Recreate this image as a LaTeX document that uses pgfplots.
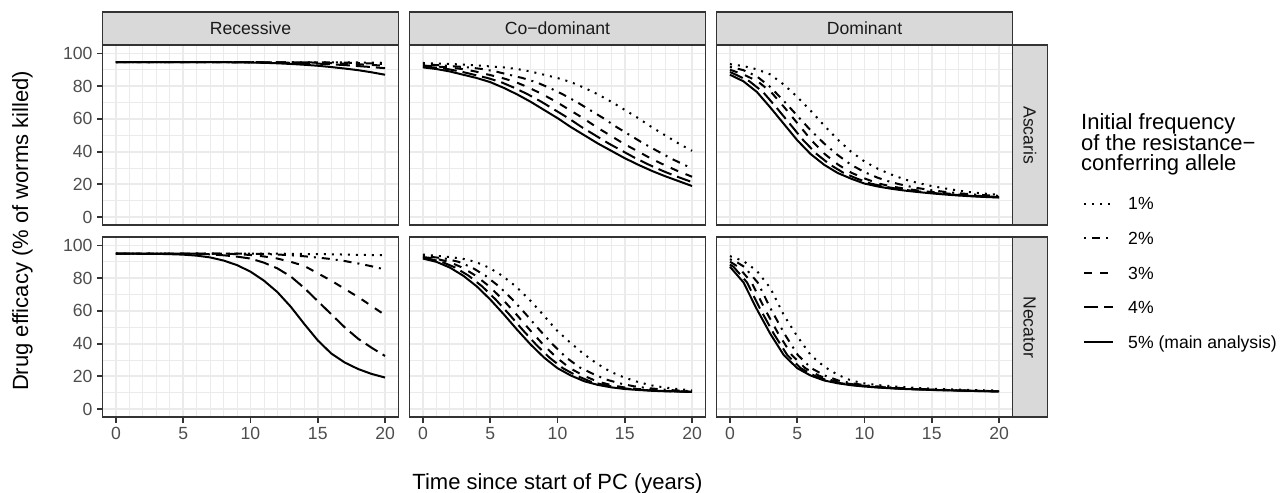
\documentclass[border=0pt]{standalone}
\usepackage{fontspec}
\setmainfont{Liberation Sans}
\usepackage{pgfplots}
\pgfplotsset{compat=1.18}
\definecolor{g10}{HTML}{1A1A1A}
\definecolor{g20}{HTML}{333333}
\definecolor{g30}{HTML}{4D4D4D}
\definecolor{g85}{HTML}{D9D9D9}
\definecolor{g92}{HTML}{EBEBEB}
\newcommand\tickfont{\fontsize{17.6bp}{21bp}\selectfont}
\newcommand\titlefont{\fontsize{22bp}{26bp}\selectfont}
\pgfplotsset{
  panel/.style={
    scale only axis, width=296bp, height=180bp, anchor=south west,
    xmin=-1, xmax=21, ymin=-5, ymax=105,
    xtick={0,5,10,15,20}, ytick={0,20,40,60,80,100},
    minor xtick={1,2,3,4,6,7,8,9,11,12,13,14,16,17,18,19},
    minor ytick={10,30,50,70,90},
    grid=both,
    major grid style={draw=g92, line width=1.8bp},
    minor grid style={draw=g92, line width=0.9bp},
    axis line style={draw=g20, line width=1.8bp},
    tick align=outside, major tick length=5.5bp, minor tick length=0pt,
    tick style={draw=g20, line width=1.8bp},
    xtick pos=bottom, ytick pos=left,
    /pgf/number format/assume math mode=true,
    ticklabel style={font=\tickfont, text=g30, inner sep=0pt},
    xticklabel shift=4.4bp, yticklabel shift=4.4bp,
    no markers,
    legend image code/.code={\draw[##1] (0bp,0bp) -- (29bp,0bp);},
  },
  nox/.style={xticklabels={}, xtick style={draw=none}},
  noy/.style={yticklabels={}, ytick style={draw=none}},
  base/.style={black, line width=2bp, line cap=butt, line join=round},
  l1/.style={base, dash pattern=on 2bp off 6bp},
  l2/.style={base, dash pattern=on 2bp off 6bp on 8bp off 6bp},
  l3/.style={base, dash pattern=on 8bp off 8bp},
  l4/.style={base, dash pattern=on 14bp off 6bp},
  l5/.style={base, solid},
}
\begin{document}
\begin{tikzpicture}
\useasboundingbox (0bp,0bp) rectangle (1288bp,493bp);

% ---------- Row 1: Ascaris ----------
\begin{axis}[panel, nox, at={(102.5bp,267.7bp)}]
\addplot[l1] coordinates {(0,94.7)(17,94.6)(18,94.5)(19,94.4)(20,94.3)};
\addplot[l2] coordinates {(0,94.7)(16,94.6)(17,94.4)(18,94.2)(19,93.9)(20,93.5)};
\addplot[l3] coordinates {(0,94.7)(14,94.6)(15,94.4)(16,94.1)(17,93.8)(18,93.4)(19,93)(20,92.5)};
\addplot[l4] coordinates {(0,94.7)(10,94.7)(11,94.6)(12,94.5)(13,94.3)(14,94.1)(15,93.8)(16,93.4)(17,92.9)(18,92.3)(19,91.7)(20,91)};
\addplot[l5] coordinates {(0,94.7)(8,94.7)(9,94.6)(10,94.5)(11,94.3)(12,94)(13,93.6)(14,93.1)(15,92.5)(16,91.7)(17,90.8)(18,89.8)(19,88.5)(20,87)};
\end{axis}

\begin{axis}[panel, nox, noy, at={(409.5bp,267.7bp)}]
\addplot[l1] coordinates {(0,94.2)(1,93.9)(2,93.6)(3,93.2)(4,92.7)(5,92.1)(6,91.5)(7,90.5)(8,89)(9,87)(10,85)(11,82.5)(12,79)(13,75)(14,70.5)(15,65.5)(16,60.5)(17,55)(18,50)(19,45)(20,40.5)};
\addplot[l2] coordinates {(0,93.35)(0.4,93.2)(1.4,92.7)(2.4,92.1)(3.4,91.5)(4.4,90.5)(5.4,89)(6.4,87)(7.4,85)(8.4,82.5)(9.4,79)(10.4,75)(11.4,70.5)(12.4,65.5)(13.4,60.5)(14.4,55)(15.4,50)(16.4,45)(17.4,40.5)(18.4,36)(19.4,32)(20,29.8)};
\addplot[l3] coordinates {(0,92.65)(0.9,92.1)(1.9,91.5)(2.9,90.5)(3.9,89)(4.9,87)(5.9,85)(6.9,82.5)(7.9,79)(8.9,75)(9.9,70.5)(10.9,65.5)(11.9,60.5)(12.9,55)(13.9,50)(14.9,45)(15.9,40.5)(16.9,36)(17.9,32)(18.9,28.3)(19.9,25)(20,24.7)};
\addplot[l4] coordinates {(0,92)(0.8,91.5)(1.8,90.5)(2.8,89)(3.8,87)(4.8,85)(5.8,82.5)(6.8,79)(7.8,75)(8.8,70.5)(9.8,65.5)(10.8,60.5)(11.8,55)(12.8,50)(13.8,45)(14.8,40.5)(15.8,36)(16.8,32)(17.8,28.3)(18.8,25)(19.8,22)(20,21.4)};
\addplot[l5] coordinates {(0,91.5)(1,90.5)(2,89)(3,87)(4,85)(5,82.5)(6,79)(7,75)(8,70.5)(9,65.5)(10,60.5)(11,55)(12,50)(13,45)(14,40.5)(15,36)(16,32)(17,28.3)(18,25)(19,22)(20,19)};
\end{axis}

\begin{axis}[panel, nox, noy, at={(716.5bp,267.7bp)},
  legend style={draw=none, fill=none, at={(1.2382,0.1572)}, anchor=north west,
    inner sep=0pt, row sep=22bp, column sep=14bp, font=\tickfont,
    nodes={inner sep=0pt, text height=12.6bp, text depth=0pt, text=black}},
  legend cell align=left]
\addplot[l1] coordinates {(0,93.5)(1,92.3)(2,90.3)(3,87.2)(4,81)(5,73.5)(6,65)(7,56)(8,47.5)(9,40)(10,34)(11,29.5)(12,26)(13,23)(14,20.8)(15,19)(16,17.5)(17,16.2)(18,15.1)(19,14.3)(20,13.7)};
\addlegendentry{1\%}
\addplot[l2] coordinates {(0,91.8)(1,89.8)(2,86)(3,79.5)(4,71)(5,62)(6,53)(7,45)(8,38)(9,32)(10,27.5)(11,24)(12,21.3)(13,19.3)(14,17.7)(15,16.4)(16,15.4)(17,14.6)(18,13.9)(19,13.4)(20,13)};
\addlegendentry{2\%}
\addplot[l3] coordinates {(0,90.1)(1.05,87)(2.05,83)(3.05,76.5)(4.05,67)(5.05,57)(6.05,47)(7.05,38.5)(8.05,32)(9.05,27)(10.05,23.5)(11.05,20.5)(12.05,18.7)(13.05,17.3)(14.05,16.2)(15.05,15.3)(16.05,14.5)(17.05,13.8)(18.05,13.2)(19.05,12.7)(20,12.3)};
\addlegendentry{3\%}
\addplot[l4] coordinates {(0,88.65)(0.45,87)(1.45,83)(2.45,76.5)(3.45,67)(4.45,57)(5.45,47)(6.45,38.5)(7.45,32)(8.45,27)(9.45,23.5)(10.45,20.5)(11.45,18.7)(12.45,17.3)(13.45,16.2)(14.45,15.3)(15.45,14.5)(16.45,13.8)(17.45,13.2)(18.45,12.7)(19.45,12.3)(20,12.1)};
\addlegendentry{4\%}
\addplot[l5] coordinates {(0,87)(1,83)(2,76.5)(3,67)(4,57)(5,47)(6,38.5)(7,32)(8,27)(9,23.5)(10,20.5)(11,18.7)(12,17.3)(13,16.2)(14,15.3)(15,14.5)(16,13.8)(17,13.2)(18,12.7)(19,12.3)(20,12)};
\addlegendentry{5\% (main analysis)}
\end{axis}

% ---------- Row 2: Necator ----------
\begin{axis}[panel, at={(102.5bp,75.7bp)}]
\addplot[l1] coordinates {(0,95)(12,95)(14,94.8)(16,94.6)(18,94.3)(20,94)};
\addplot[l2] coordinates {(0,95)(10,95)(11,94.8)(12,94.5)(13,94)(14,93.4)(15,92.6)(16,91.7)(17,90.5)(18,89)(19,87.3)(20,85.3)};
\addplot[l3] coordinates {(0,95)(8,95)(9,94.7)(10,94.2)(11,93.3)(12,92)(13,90)(14,87.5)(15,83)(16,78.5)(17,73.5)(18,68.5)(19,63)(20,57.5)};
\addplot[l4] coordinates {(0,95)(6,95)(7,94.6)(8,94)(9,93.2)(10,92)(11,89.5)(12,86)(13,81)(14,74)(15,66)(16,58)(17,50)(18,43)(19,37.5)(20,32.5)};
\addplot[l5] coordinates {(0,95)(3,94.9)(4,94.7)(5,94.4)(6,93.8)(7,92.7)(8,90.8)(9,88)(10,84)(11,78.5)(12,71.5)(13,62.5)(14,52)(15,42)(16,34)(17,28.5)(18,24.5)(19,21.5)(20,19.3)};
\end{axis}

\begin{axis}[panel, noy, at={(409.5bp,75.7bp)}]
\addplot[l1] coordinates {(0,94.45)(0.9,93.8)(1.9,93)(2.9,92)(3.9,90)(4.9,86.5)(5.9,81.5)(6.9,75)(7.9,67)(8.9,58)(9.9,48.5)(10.9,41)(11.9,34)(12.9,28)(13.9,23)(14.9,19.5)(15.9,16.8)(16.9,14.6)(17.9,13.3)(18.9,12.3)(19.9,11.5)(20,11.4)};
\addplot[l2] coordinates {(0,93.55)(0.65,93)(1.65,92)(2.65,90)(3.65,86.5)(4.65,81.5)(5.65,75)(6.65,67)(7.65,58)(8.65,48.5)(9.65,39.5)(10.65,31.5)(11.65,25.5)(12.65,21.5)(13.65,18)(14.65,15.7)(15.65,14)(16.65,12.9)(17.65,12.1)(18.65,11.5)(19.65,11.1)(20,11)};
\addplot[l3] coordinates {(0,92.95)(0.93,92)(1.93,90)(2.93,86.5)(3.93,81.5)(4.93,75)(5.93,67)(6.93,58)(7.93,48.5)(8.93,39.5)(9.93,31.5)(10.93,25)(11.93,20.5)(12.93,17)(13.93,14.8)(14.93,13.3)(15.93,12.3)(16.93,11.7)(17.93,11.2)(18.93,10.9)(19.93,10.7)(20,10.7)};
\addplot[l4] coordinates {(0,92.6)(0.4,92)(1.4,90)(2.4,86.5)(3.4,81.5)(4.4,75)(5.4,67)(6.4,58)(7.4,48.5)(8.4,39.5)(9.4,31.5)(10.4,25)(11.4,20.5)(12.4,17)(13.4,14.8)(14.4,13.3)(15.4,12.3)(16.4,11.7)(17.4,11.2)(18.4,10.9)(19.4,10.7)(20,10.6)};
\addplot[l5] coordinates {(0,92)(1,90)(2,86.5)(3,81.5)(4,75)(5,67)(6,58)(7,48.5)(8,39.5)(9,31.5)(10,25)(11,20.5)(12,17)(13,14.8)(14,13.3)(15,12.3)(16,11.7)(17,11.2)(18,10.9)(19,10.7)(20,10.5)};
\end{axis}

\begin{axis}[panel, noy, at={(716.5bp,75.7bp)}]
\addplot[l1] coordinates {(0,93.5)(1,90.5)(2,84.5)(3,74)(4,57.5)(5,44.5)(6,33)(7,26)(8,21)(9,17.5)(10,15.7)(11,14.7)(12,14)(13,13.4)(14,12.9)(15,12.5)(16,12.2)(17,11.9)(18,11.7)(19,11.5)(20,11.3)};
\addplot[l2] coordinates {(0,91.6)(0.55,89.6)(1.05,87)(2.05,77.5)(3.05,61)(4.05,46)(5.05,33)(6.05,25)(7.05,20.5)(8.05,17.5)(9.05,15.8)(10.05,14.6)(11.05,13.8)(12.05,13.2)(13.05,12.7)(14.05,12.3)(15.05,12)(16.05,11.7)(17.05,11.5)(18.05,11.3)(19.05,11.1)(20,10.95)};
\addplot[l3] coordinates {(0,90)(0.1,89.6)(0.6,87)(1.6,77.5)(2.6,61)(3.6,46)(4.6,33)(5.6,25)(6.6,20.5)(7.6,17.5)(8.6,15.8)(9.6,14.6)(10.6,13.8)(11.6,13.2)(12.6,12.7)(13.6,12.3)(14.6,12)(15.6,11.7)(16.6,11.5)(17.6,11.3)(18.6,11.1)(19.6,10.9)(20,10.85)};
\addplot[l4] coordinates {(0,88.3)(0.26,87)(1.26,77.5)(2.26,61)(3.26,46)(4.26,33)(5.26,25)(6.26,20.5)(7.26,17.5)(8.26,15.8)(9.26,14.6)(10.26,13.8)(11.26,13.2)(12.26,12.7)(13.26,12.3)(14.26,12)(15.26,11.7)(16.26,11.5)(17.26,11.3)(18.26,11.1)(19.26,10.9)(20,10.85)};
\addplot[l5] coordinates {(0,87)(1,77.5)(2,61)(3,46)(4,33)(5,25)(6,20.5)(7,17.5)(8,15.8)(9,14.6)(10,13.8)(11,13.2)(12,12.7)(13,12.3)(14,12)(15,11.7)(16,11.5)(17,11.3)(18,11.1)(19,10.9)(20,10.8)};
\end{axis}

% ---------- strips ----------
\begin{scope}[line width=1.8bp, draw=g20]
\draw[fill=g85] (102.5bp,447.7bp) rectangle (398.5bp,481bp);
\draw[fill=g85] (409.5bp,447.7bp) rectangle (705.5bp,481bp);
\draw[fill=g85] (716.5bp,447.7bp) rectangle (1012.5bp,481bp);
\draw[fill=g85] (1012.5bp,267.7bp) rectangle (1047.5bp,447.7bp);
\draw[fill=g85] (1012.5bp,75.7bp) rectangle (1047.5bp,255.7bp);
\end{scope}
\begin{scope}[every node/.style={font=\tickfont, text=g10, inner sep=0pt}]
\node[anchor=base] at (250.5bp,458.05bp) {Recessive};
\node[anchor=base] at (557.5bp,458.05bp) {Co−dominant};
\node[anchor=base] at (864.5bp,458.05bp) {Dominant};
\node[anchor=base, rotate=-90] at (1023.7bp,357.7bp) {Ascaris};
\node[anchor=base, rotate=-90] at (1023.7bp,165.7bp) {Necator};
\end{scope}

% ---------- axis titles ----------
\node[font=\titlefont, anchor=base, rotate=90, inner sep=0pt] at (28bp,262bp) {Drug efficacy (\% of worms killed)};
\node[font=\titlefont, anchor=base, inner sep=0pt] at (557.5bp,3.9bp) {Time since start of PC (years)};

% ---------- legend title ----------
\begin{scope}[every node/.style={font=\titlefont, anchor=base west, inner sep=0pt}]
\node at (1081bp,363bp) {Initial frequency};
\node at (1081bp,342.5bp) {of the resistance−};
\node at (1081bp,322bp) {conferring allele};
\end{scope}
\end{tikzpicture}
\end{document}
